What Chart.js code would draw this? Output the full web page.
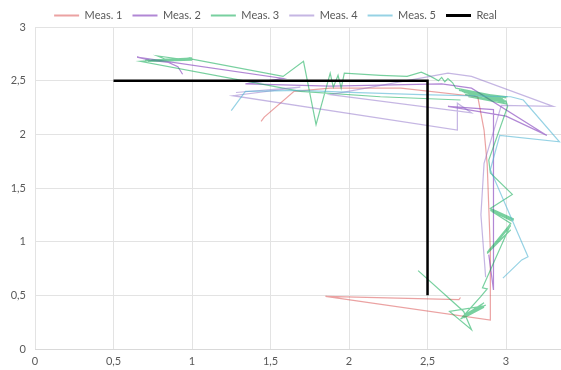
<!DOCTYPE html>
<html>
<head>
<meta charset="utf-8">
<script src="https://cdn.jsdelivr.net/npm/chart.js@4/dist/chart.umd.min.js"></script>
<style>
  html, body { margin: 0; padding: 0; background: #fff; overflow: hidden; }
  #wrap { width: 561px; height: 370px; position: relative; }
</style>
</head>
<body>
<div id="wrap"><canvas id="c" width="561" height="370"></canvas></div>
<script>
// Track measurements (x, y in metres) against the real path
const seriesNames = ['Meas. 1', 'Meas. 2', 'Meas. 3', 'Meas. 4', 'Meas. 5', 'Real'];

const meas1X = [1.44, 1.46, 1.65, 1.88, 2.33, 2.82, 2.86, 2.88, 2.90, 2.90, 1.85, 2.70, 2.71];
const meas1Y = [2.12, 2.16, 2.40, 2.43, 2.43, 2.35, 2.04, 1.72, 0.92, 0.27, 0.49, 0.46, 0.48];

const meas2X = [0.94, 0.91, 0.85, 0.73, 0.65, 1.58, 1.34, 1.88, 2.59, 2.78, 3.26, 3.00, 2.63, 2.92, 2.92, 2.92, 2.89];
const meas2Y = [2.56, 2.63, 2.67, 2.69, 2.72, 2.52, 2.47, 2.45, 2.47, 2.43, 1.99, 2.17, 2.26, 2.23, 1.39, 0.55, 0.88];

const meas3X = [2.71, 2.20, 1.69, 0.67, 0.99, 0.70, 1.00, 0.73, 0.99, 0.76, 1.00, 0.72, 0.98, 0.78, 0.83, 1.00,
                1.58, 1.71, 1.79, 1.88, 1.90, 1.93, 1.95, 1.97, 2.20, 2.37, 2.46, 2.52,
                2.57, 2.59, 2.61, 2.63, 2.66,
                2.68, 3.00, 2.70, 2.99, 2.72, 3.01, 2.74, 3.00, 2.76, 3.01, 2.71, 2.98, 2.73, 3.00, 3.01,
                2.89, 2.90, 3.04, 2.90, 3.05, 2.90, 3.04, 2.90, 3.05, 2.91, 3.03, 2.88, 3.03, 2.89, 3.03, 2.88, 3.02,
                2.85, 2.88, 2.84,
                2.73, 2.87, 2.73, 2.86, 2.75, 2.85, 2.71, 2.84, 2.74, 2.86, 2.72, 2.85,
                2.64, 2.78, 2.73, 2.44];
const meas3Y = [2.32, 2.35, 2.40, 2.68, 2.71, 2.69, 2.69, 2.68, 2.70, 2.69, 2.71, 2.68, 2.69, 2.73, 2.70, 2.70,
                2.54, 2.68, 2.09, 2.57, 2.44, 2.55, 2.43, 2.57, 2.55, 2.54, 2.58, 2.54,
                2.50, 2.53, 2.49, 2.52, 2.48,
                2.43, 2.34, 2.41, 2.32, 2.40, 2.35, 2.37, 2.30, 2.35, 2.28, 2.42, 2.33, 2.39, 2.31, 2.26,
                1.76, 1.64, 1.44, 1.31, 1.21, 1.30, 1.19, 1.29, 1.20, 1.28, 1.17, 0.90, 1.15, 0.92, 1.11, 0.89, 1.13,
                0.57, 0.56, 0.49,
                0.31, 0.41, 0.29, 0.39, 0.33, 0.42, 0.28, 0.38, 0.32, 0.43, 0.30, 0.40,
                0.35, 0.18, 0.35, 0.73];

const meas4X = [1.28, 1.69, 1.26, 2.69, 2.69, 2.78, 1.88, 2.63, 2.78, 3.30, 2.97, 2.86, 2.84, 2.87];
const meas4Y = [2.39, 2.44, 2.36, 2.04, 2.29, 2.20, 2.37, 2.57, 2.54, 2.26, 2.27, 1.73, 1.25, 0.67];

const meas5X = [1.25, 1.34, 1.69, 2.01, 2.46, 3.03, 3.11, 3.34, 2.96, 2.90, 3.14, 3.10, 2.98];
const meas5Y = [2.22, 2.40, 2.41, 2.39, 2.37, 2.35, 2.32, 1.93, 1.99, 1.67, 0.86, 0.83, 0.66];

const realX = [0.5, 2.5, 2.5];
const realY = [2.5, 2.5, 0.5];

const xTicks = [0, 0.5, 1, 1.5, 2, 2.5, 3];
const yTicks = [0, 0.5, 1, 1.5, 2, 2.5, 3];

const colors = [
  'rgba(215,70,70,0.5)',
  'rgba(125,55,185,0.6)',
  'rgba(10,170,80,0.55)',
  'rgba(140,110,200,0.5)',
  'rgba(80,180,210,0.6)',
  '#000000'
];

function pts(xs, ys) { return xs.map((x, i) => ({ x: x, y: ys[i] })); }
const allX = [meas1X, meas2X, meas3X, meas4X, meas5X, realX];
const allY = [meas1Y, meas2Y, meas3Y, meas4Y, meas5Y, realY];

const datasets = seriesNames.map((name, i) => ({
  label: name,
  data: pts(allX[i], allY[i]),
  showLine: true,
  borderColor: colors[i],
  backgroundColor: colors[i],
  borderWidth: i === 5 ? 2.5 : 1.2,
  pointRadius: 0,
  pointHoverRadius: 0,
  tension: 0,
  fill: false,
  order: i === 5 ? 0 : 6 - i
}));

const fmt = v => String(v).replace('.', ',');

// Fixed legend band height and slight left shift of its items
const legendTweak = {
  id: 'legendTweak',
  beforeInit(chart) {
    const lg = chart.legend;
    const fit = lg.fit;
    lg.fit = function () { fit.call(this); this.height = 27; };
    const draw = lg.draw;
    lg.draw = function () {
      const ctx = this.ctx;
      ctx.save(); ctx.translate(-5, 0); draw.call(this); ctx.restore();
    };
  }
};

new Chart(document.getElementById('c'), {
  type: 'scatter',
  data: { datasets: datasets },
  plugins: [legendTweak],
  options: {
    responsive: false,
    animation: false,
    layout: { padding: 0 },
    plugins: {
      tooltip: { enabled: false },
      legend: {
        position: 'top',
        labels: {
          usePointStyle: true,
          pointStyleWidth: 25,
          boxHeight: 11,
          padding: 10,
          color: '#595959',
          font: { family: 'Lato', size: 11 },
          sort: (a, b) => a.datasetIndex - b.datasetIndex,
          generateLabels(chart) {
            return chart.data.datasets.map((ds, i) => ({
              text: ds.label,
              datasetIndex: i,
              pointStyle: 'line',
              strokeStyle: ds.borderColor,
              fillStyle: ds.borderColor,
              lineWidth: i === 5 ? 3 : 2,
              fontColor: '#595959',
              hidden: false
            }));
          }
        }
      }
    },
    scales: {
      x: {
        type: 'linear',
        min: 0,
        max: 3.35,
        afterFit(s) { s.height = 21; },
        afterBuildTicks(s) { s.ticks = xTicks.map(v => ({ value: v })); },
        ticks: { includeBounds: false, stepSize: 0.5, padding: 6, color: '#595959',
                 font: { family: 'Lato', size: 11 }, callback: v => fmt(v), maxRotation: 0 },
        grid: { color: '#e3e3e3', lineWidth: 1, drawTicks: false },
        border: { color: '#d9d9d9' }
      },
      y: {
        type: 'linear',
        min: 0,
        max: 3,
        afterFit(s) { s.width = 35; },
        afterBuildTicks(s) { s.ticks = yTicks.map(v => ({ value: v })); },
        ticks: { stepSize: 0.5, padding: 9, color: '#595959',
                 font: { family: 'Lato', size: 11 }, callback: v => fmt(v) },
        grid: { color: '#e3e3e3', lineWidth: 1, drawTicks: false },
        border: { display: false }
      }
    }
  }
});
</script>
</body>
</html>
